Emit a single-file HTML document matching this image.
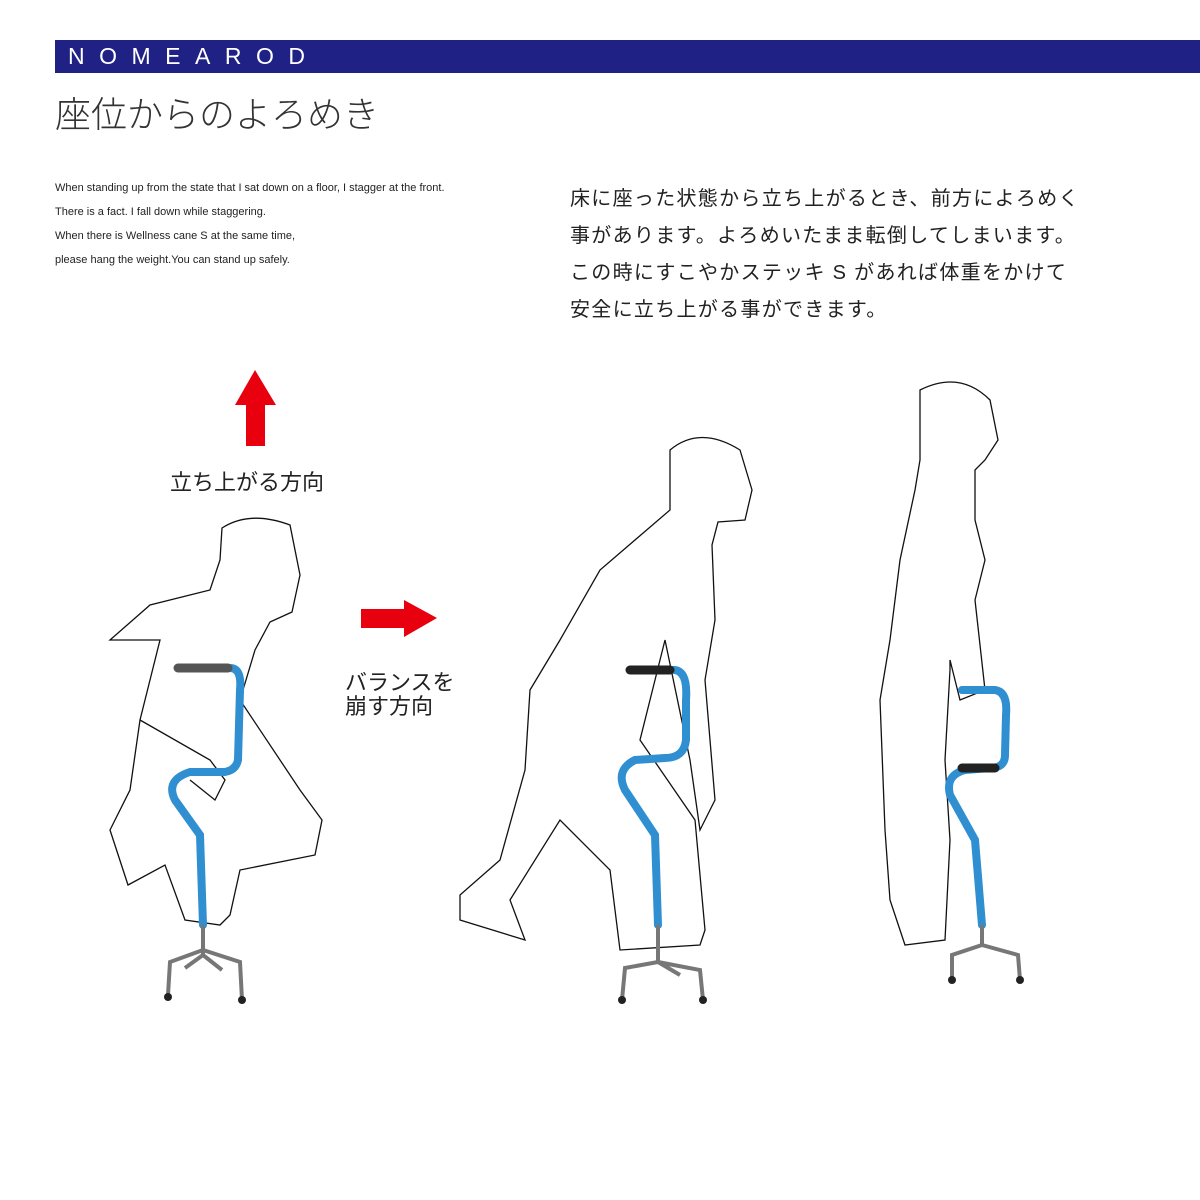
<!DOCTYPE html>
<html><head><meta charset="utf-8"><style>
body{margin:0;width:1200px;height:1200px;background:#fff;position:relative;overflow:hidden;font-family:"Liberation Sans","Noto Sans CJK JP",sans-serif;color:#222}
.bar{position:absolute;left:55px;top:40px;width:1145px;height:33px;background:#1f2185}
.bar span{position:absolute;left:13px;top:3px;color:#fff;font-size:23px;letter-spacing:14.5px;font-weight:300}
.t{position:absolute;white-space:nowrap}
svg{position:absolute;left:0;top:0}
</style></head><body>
<div class="bar"><span>NOMEAROD</span></div>
<div class="t" style="left:55px;top:86px;font-size:36px;font-weight:300;color:#333">座位からのよろめき</div>
<div class="t" style="left:55px;top:176px;font-size:11px;line-height:24px;color:#222">When standing up from the state that I sat down on a floor, I stagger at the front.<br>There is a fact. I fall down while staggering.<br>When there is Wellness cane S at the same time,<br>please hang the weight.You can stand up safely.</div>
<div class="t" style="left:570px;top:181px;font-size:20px;line-height:37px;letter-spacing:1.3px;color:#222">床に座った状態から立ち上がるとき、前方によろめく<br>事があります。よろめいたまま転倒してしまいます。<br>この時にすこやかステッキ S があれば体重をかけて<br>安全に立ち上がる事ができます。</div>
<div class="t" style="left:170px;top:465px;font-size:22px">立ち上がる方向</div>
<div class="t" style="left:345px;top:671px;font-size:22px;line-height:24px">バランスを<br>崩す方向</div>
<svg width="1200" height="1200" viewBox="0 0 1200 1200">
<polygon points="255,370 276,405 265,405 265,446 246,446 246,405 235,405" fill="#e8000f"/>
<polygon points="437,618 404,637 404,628 361,628 361,609 404,609 404,600" fill="#e8000f"/>
<g fill="none" stroke="#111" stroke-width="1.3">
<path d="M222,528 Q250,510 290,525 L300,575 L292,612 L270,622 L255,650 L240,700 L300,790 L322,820 L315,855 L240,870 L230,915 L220,925 L185,920 L165,865 L128,885 L110,830 L130,790 L140,720 L160,640 L110,640 L150,605 L210,590 L220,560 Z"/>
<path d="M140,720 L210,760 L225,780 L215,800 L190,780"/>
<path d="M670,450 Q700,425 740,450 L752,490 L745,520 L718,522 L712,545 L715,620 L705,680 L715,800 L700,830 L690,760 L665,640 L640,740 L695,820 L705,930 L700,945 L620,950 L610,870 L560,820 L510,900 L525,940 L460,920 L460,895 L500,860 L525,770 L530,690 L560,640 L600,570 L670,510 Z"/>
<path d="M920,390 Q960,370 990,400 L998,440 L985,460 L975,470 L975,520 L985,560 L975,600 L985,690 L960,700 L950,660 L950,670 L945,760 L950,840 L945,940 L905,945 L890,900 L885,830 L880,700 L890,640 L900,560 L915,490 L920,460 Z"/>
</g>
<g fill="none" stroke="#2f8fd0" stroke-width="8" stroke-linecap="round">
<path d="M178,668 L230,668 Q242,668 240,690 L238,760 Q236,770 225,772 L190,772 Q165,780 175,800 L200,835 L203,925"/>
<path d="M630,670 L675,670 Q688,672 686,700 L686,740 Q684,758 665,758 L635,760 Q615,770 625,790 L655,835 L658,925"/>
<path d="M962,690 L995,690 Q1008,692 1006,715 L1005,755 Q1005,768 990,768 L965,770 Q945,775 950,795 L975,840 L982,925"/>
</g>
<g stroke="#555" stroke-width="9" stroke-linecap="round"><line x1="178" y1="668" x2="228" y2="668"/><line x1="630" y1="670" x2="670" y2="670" stroke="#222"/><line x1="962" y1="768" x2="995" y2="768" stroke="#222"/></g>
<g fill="none" stroke="#777" stroke-width="4">
<line x1="203" y1="925" x2="203" y2="955"/><path d="M203,950 L170,962 L168,995 M203,950 L240,962 L242,1000 M203,955 L185,968 M203,955 L222,970"/>
<line x1="658" y1="925" x2="658" y2="962"/><path d="M658,962 L625,968 L622,1000 M658,962 L700,970 L703,1000 M658,962 L680,975"/>
<line x1="982" y1="925" x2="982" y2="945"/><path d="M982,945 L952,955 L952,980 M982,945 L1018,955 L1020,980"/>
</g>
<g fill="#222"><circle cx="168" cy="997" r="4"/><circle cx="242" cy="1000" r="4"/><circle cx="622" cy="1000" r="4"/><circle cx="703" cy="1000" r="4"/><circle cx="952" cy="980" r="4"/><circle cx="1020" cy="980" r="4"/></g>
</svg>
</body></html>
